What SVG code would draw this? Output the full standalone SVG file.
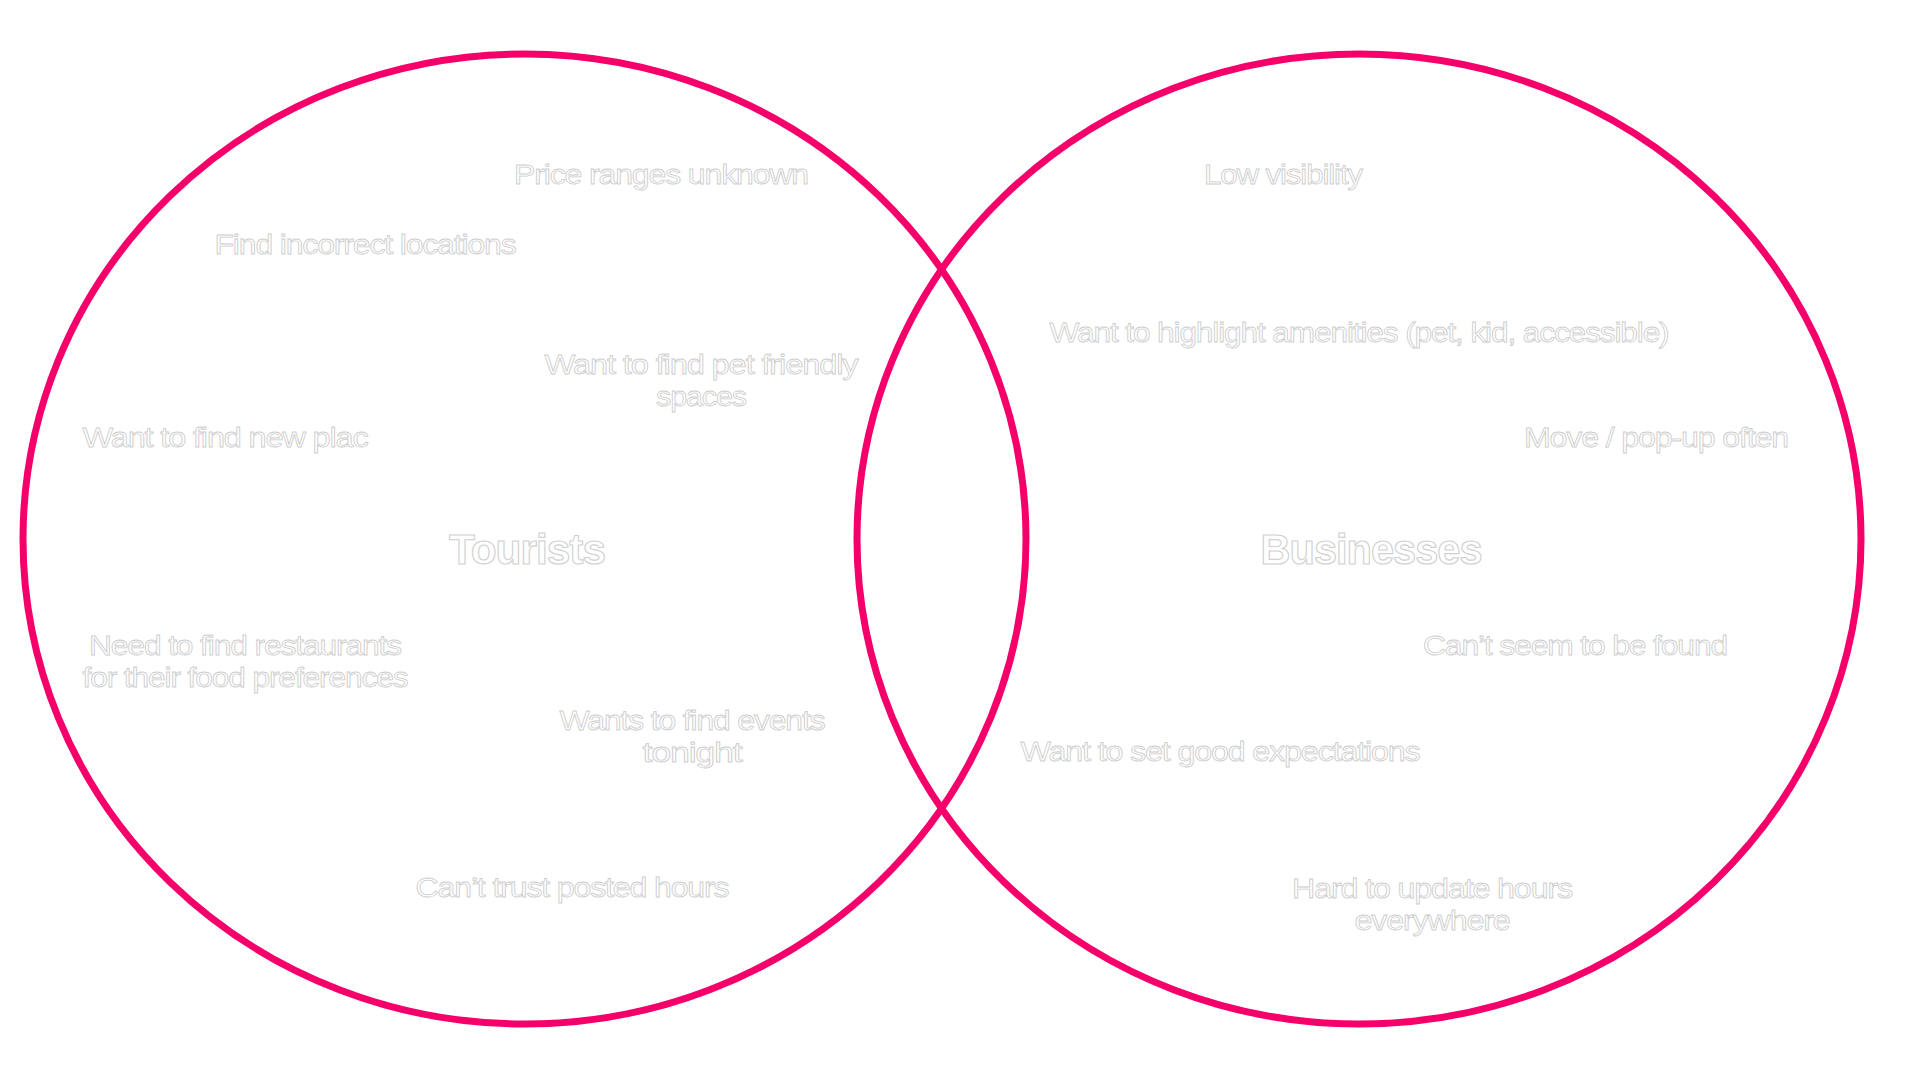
<svg xmlns="http://www.w3.org/2000/svg" width="1920" height="1080" viewBox="0 0 1920 1080">
<style>
.ring{fill:none;stroke:#F5006A;stroke-width:7}
.t{font-family:"Liberation Sans","Noto Sans",sans-serif;font-size:28px;fill:#ffffff;stroke:#cdcdcd;stroke-width:0.8;text-anchor:middle;letter-spacing:-1px}
.h{font-family:"Liberation Sans","Noto Sans",sans-serif;font-size:42px;font-weight:700;fill:#ffffff;stroke:#d0d0d0;stroke-width:1.1;text-anchor:middle;letter-spacing:-1px}
</style>
<rect width="1920" height="1080" fill="#ffffff"/>
<g id="connectors"></g>
<g id="tourists-circle"><ellipse class="ring" cx="524.5" cy="539" rx="501.5" ry="485"/></g>
<g id="businesses-circle"><ellipse class="ring" cx="1359" cy="539" rx="502" ry="485"/></g>
<g id="tourists"><text class="h" x="527" y="564" textLength="156" lengthAdjust="spacingAndGlyphs">Tourists</text></g>
<g id="businesses"><text class="h" x="1371" y="564" textLength="221" lengthAdjust="spacingAndGlyphs">Businesses</text></g>
<g id="t1"><text class="t" x="661" y="184" textLength="294" lengthAdjust="spacingAndGlyphs">Price ranges unknown</text></g>
<g id="t2"><text class="t" x="365" y="254" textLength="301" lengthAdjust="spacingAndGlyphs">Find incorrect locations</text></g>
<g id="t3"><text class="t" x="701" y="374" textLength="313" lengthAdjust="spacingAndGlyphs">Want to find pet friendly</text><text class="t" x="701" y="406" textLength="90" lengthAdjust="spacingAndGlyphs">spaces</text></g>
<g id="t4"><text class="t" x="225" y="447" textLength="285" lengthAdjust="spacingAndGlyphs">Want to find new plac</text></g>
<g id="t5"><text class="t" x="245" y="655" textLength="312" lengthAdjust="spacingAndGlyphs">Need to find restaurants</text><text class="t" x="245" y="687" textLength="325" lengthAdjust="spacingAndGlyphs">for their food preferences</text></g>
<g id="t6"><text class="t" x="692" y="730" textLength="265" lengthAdjust="spacingAndGlyphs">Wants to find events</text><text class="t" x="692" y="762" textLength="99" lengthAdjust="spacingAndGlyphs">tonight</text></g>
<g id="t7"><text class="t" x="572" y="897" textLength="313" lengthAdjust="spacingAndGlyphs">Can’t trust posted hours</text></g>
<g id="b1"><text class="t" x="1283" y="184" textLength="158" lengthAdjust="spacingAndGlyphs">Low visibility</text></g>
<g id="b2"><text class="t" x="1359" y="342" textLength="619" lengthAdjust="spacingAndGlyphs">Want to highlight amenities (pet, kid, accessible)</text></g>
<g id="b3"><text class="t" x="1656" y="447" textLength="264" lengthAdjust="spacingAndGlyphs">Move / pop-up often</text></g>
<g id="b4"><text class="t" x="1575" y="655" textLength="304" lengthAdjust="spacingAndGlyphs">Can’t seem to be found</text></g>
<g id="b5"><text class="t" x="1220" y="761" textLength="399" lengthAdjust="spacingAndGlyphs">Want to set good expectations</text></g>
<g id="b6"><text class="t" x="1432" y="898" textLength="280" lengthAdjust="spacingAndGlyphs">Hard to update hours</text><text class="t" x="1432" y="930" textLength="155" lengthAdjust="spacingAndGlyphs">everywhere</text></g>
</svg>
